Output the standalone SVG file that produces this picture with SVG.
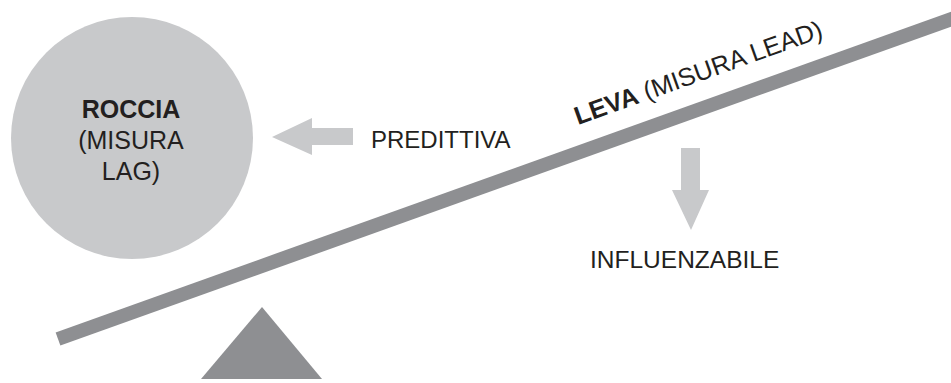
<svg xmlns="http://www.w3.org/2000/svg" width="951" height="383" viewBox="0 0 951 383">
  <style>
    .lbl { font-family: "Liberation Sans", Arial, sans-serif; font-size: 25px; fill: #231f20; }
    .b { font-weight: bold; }
    .light { fill: #c8c9cb; }
    .dark { fill: #8e8f92; }
  </style>
  <rect width="951" height="383" fill="#ffffff"/>

  <!-- rock -->
  <g id="roccia">
    <circle cx="132" cy="138" r="121" class="light"/>
    <text class="lbl" text-anchor="middle" x="131" y="118"><tspan class="b">ROCCIA</tspan></text>
    <text class="lbl" text-anchor="middle" x="131" y="149">(MISURA</text>
    <text class="lbl" text-anchor="middle" x="131" y="180">LAG)</text>
  </g>

  <!-- lever beam and fulcrum -->
  <g id="leva">
    <line x1="58" y1="339" x2="960" y2="16" stroke="#8e8f92" stroke-width="14"/>
    <text class="lbl" style="font-size:25.5px" transform="translate(578 125) rotate(-19.7)"><tspan class="b">LEVA</tspan> (MISURA LEAD)</text>
  </g>
  <g id="fulcro">
    <polygon points="262,307 201,379 322,379" class="dark"/>
  </g>

  <!-- arrows -->
  <g id="connectors">
    <polygon class="light" points="272,137 312,118 312,128 353,128 353,145 312,145 312,155"/>
    <polygon class="light" points="681,148 700,148 700,190 709,190 691,230 672,190 681,190"/>
  </g>

  <g id="predittiva">
    <text class="lbl" style="font-size:24px" x="371" y="148">PREDITTIVA</text>
  </g>
  <g id="influenzabile">
    <text class="lbl" style="font-size:24.5px" x="590" y="268">INFLUENZABILE</text>
  </g>
</svg>
